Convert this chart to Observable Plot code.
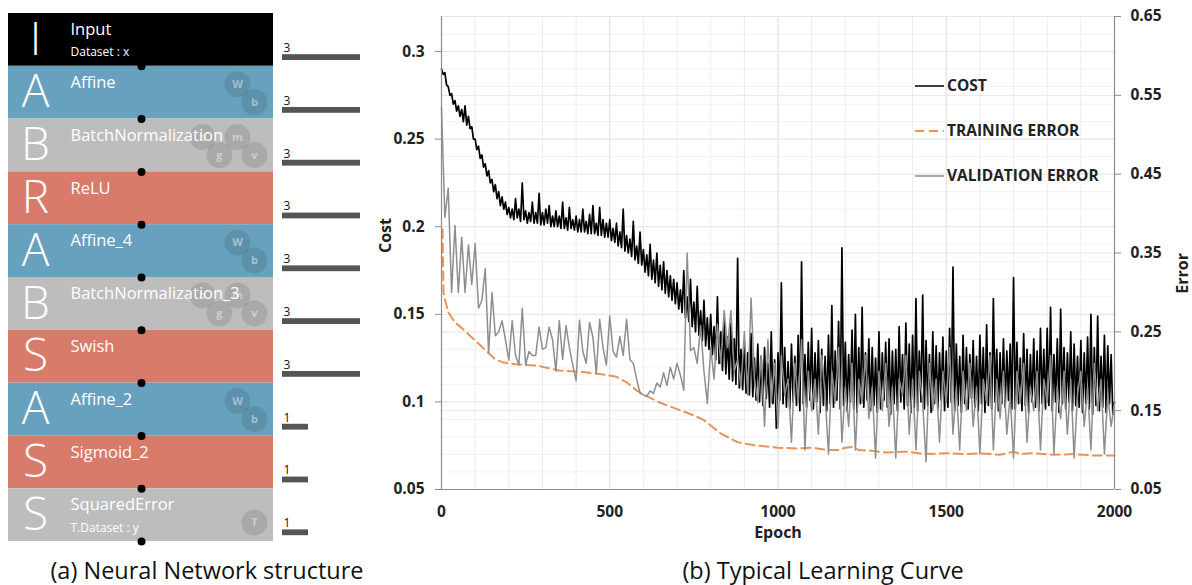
<!DOCTYPE html>
<html>
<head>
<meta charset="utf-8">
<script src="https://cdn.jsdelivr.net/npm/d3@7"></script>
<script src="https://cdn.jsdelivr.net/npm/@observablehq/plot@0.6"></script>
<style>
  html, body { margin: 0; padding: 0; background: white; }
  #root { position: relative; width: 1192px; height: 585px; overflow: hidden; font-family: "Open Sans", sans-serif; }
  .abs { position: absolute; }
  .caption { position: absolute; font-size: 23.5px; line-height: 1.05; color: #111; white-space: nowrap; transform: translate(-50%, -50%); }
</style>
</head>
<body>
<div id="root"></div>
<script>
// ---------- (a) network structure data ----------
const layerNames = ["Input","Affine","BatchNormalization","ReLU","Affine_4","BatchNormalization_3","Swish","Affine_2","Sigmoid_2","SquaredError"];
const layerTypes = ["Input","Affine","BatchNormalization","ReLU","Affine","BatchNormalization","Swish","Affine","Sigmoid","SquaredError"];
const layerLetters = ["I","A","B","R","A","B","S","A","S","S"];
const layerSubtitles = ["Dataset : x","","","","","","","","","T.Dataset : y"];
const layerOutputs = [3,3,3,3,3,3,3,1,1,1];
const layerParams = [[],["W","b"],["b","m","g","v"],[],["W","b"],["b","m","g","v"],[],["W","b"],[],["T"]];

// ---------- (b) learning curve data ----------
const costStep = 5;
const cost = [
  0.290,0.287,0.288,0.281,0.280,0.275,0.276,0.270,0.272,0.266,0.269,0.263,0.267,0.260,0.269,0.258,0.263,0.256,0.257,0.250,
  0.250,0.244,0.246,0.239,0.241,0.234,0.236,0.229,0.232,0.225,0.227,0.220,0.224,0.216,0.220,0.212,0.217,0.210,0.214,0.207,
  0.211,0.205,0.210,0.204,0.216,0.205,0.210,0.203,0.225,0.204,0.209,0.202,0.208,0.203,0.214,0.202,0.208,0.202,0.219,0.201,
  0.208,0.201,0.210,0.202,0.212,0.200,0.206,0.200,0.209,0.200,0.206,0.199,0.214,0.199,0.205,0.198,0.211,0.199,0.204,0.198,
  0.206,0.197,0.204,0.197,0.210,0.197,0.203,0.196,0.207,0.196,0.212,0.196,0.202,0.195,0.211,0.195,0.204,0.194,0.202,0.194,
  0.204,0.192,0.199,0.191,0.202,0.189,0.197,0.188,0.210,0.186,0.195,0.185,0.193,0.183,0.203,0.181,0.189,0.179,0.197,0.178,
  0.187,0.174,0.184,0.172,0.190,0.170,0.181,0.168,0.185,0.166,0.178,0.164,0.180,0.162,0.175,0.160,0.172,0.158,0.170,0.156,
  0.168,0.153,0.164,0.151,0.175,0.148,0.160,0.146,0.170,0.143,0.157,0.140,0.166,0.138,0.152,0.135,0.158,0.132,0.148,0.130,
  0.150,0.127,0.143,0.124,0.160,0.122,0.140,0.118,0.148,0.116,0.137,0.113,0.145,0.112,0.136,0.110,0.182,0.108,0.130,0.107,
  0.134,0.105,0.128,0.104,0.139,0.103,0.125,0.101,0.133,0.100,0.126,0.098,0.131,0.102,0.122,0.097,0.140,0.099,0.124,0.085,
  0.128,0.101,0.168,0.099,0.131,0.097,0.123,0.096,0.133,0.100,0.126,0.098,0.138,0.095,0.180,0.099,0.127,0.097,0.134,0.101,
  0.142,0.096,0.128,0.100,0.135,0.094,0.130,0.098,0.126,0.095,0.138,0.099,0.155,0.097,0.129,0.101,0.146,0.096,0.188,0.098,
  0.134,0.095,0.127,0.100,0.141,0.096,0.150,0.094,0.131,0.099,0.154,0.097,0.128,0.101,0.136,0.095,0.131,0.098,0.125,0.094,
  0.140,0.096,0.128,0.101,0.134,0.097,0.136,0.093,0.129,0.099,0.130,0.095,0.143,0.100,0.127,0.096,0.145,0.098,0.133,0.094,
  0.138,0.097,0.159,0.095,0.129,0.100,0.161,0.096,0.135,0.098,0.127,0.094,0.140,0.099,0.132,0.096,0.128,0.101,0.137,0.095,
  0.129,0.097,0.142,0.100,0.177,0.095,0.133,0.098,0.126,0.094,0.138,0.099,0.131,0.096,0.127,0.102,0.135,0.097,0.126,0.095,
  0.138,0.099,0.131,0.094,0.144,0.098,0.128,0.096,0.159,0.100,0.130,0.095,0.128,0.099,0.136,0.097,0.129,0.101,0.133,0.096,
  0.171,0.096,0.134,0.099,0.125,0.095,0.139,0.098,0.130,0.094,0.127,0.100,0.136,0.097,0.129,0.095,0.142,0.099,0.130,0.096,
  0.142,0.098,0.154,0.095,0.127,0.100,0.136,0.094,0.153,0.099,0.131,0.096,0.128,0.100,0.140,0.095,0.133,0.098,0.126,0.097,
  0.135,0.094,0.128,0.099,0.137,0.096,0.150,0.093,0.131,0.098,0.149,0.095,0.126,0.097,0.138,0.094,0.132,0.099,0.127,0.093,
  0.100
];
const valStep = 10;
const validationError = [
  0.535,0.395,0.432,0.300,0.385,0.300,0.370,0.300,0.360,0.310,
  0.362,0.280,0.290,0.330,0.223,0.300,0.245,0.250,0.264,0.240,
  0.214,0.264,0.220,0.208,0.280,0.208,0.225,0.220,0.220,0.256,
  0.228,0.230,0.256,0.240,0.200,0.264,0.215,0.258,0.230,0.208,
  0.188,0.265,0.225,0.210,0.262,0.243,0.197,0.266,0.230,0.208,
  0.270,0.225,0.218,0.244,0.220,0.266,0.215,0.210,0.190,0.172,
  0.170,0.168,0.175,0.172,0.185,0.180,0.198,0.182,0.205,0.190,
  0.210,0.195,0.176,0.350,0.226,0.230,0.210,0.258,0.200,0.159,
  0.230,0.190,0.260,0.210,0.277,0.230,0.277,0.200,0.215,0.180,
  0.250,0.170,0.293,0.190,0.160,0.220,0.130,0.240,0.160,0.210,
  0.128,0.220,0.170,0.190,0.110,0.210,0.160,0.240,0.100,0.200,
  0.150,0.190,0.120,0.220,0.170,0.095,0.200,0.160,0.230,0.110,
  0.180,0.130,0.210,0.100,0.190,0.160,0.220,0.140,0.180,0.090,
  0.200,0.150,0.210,0.130,0.180,0.090,0.190,0.170,0.220,0.120,
  0.190,0.100,0.200,0.160,0.085,0.210,0.150,0.190,0.110,0.200,
  0.160,0.230,0.120,0.180,0.100,0.200,0.150,0.210,0.130,0.180,
  0.095,0.190,0.160,0.220,0.100,0.190,0.140,0.200,0.120,0.170,
  0.090,0.200,0.160,0.210,0.110,0.180,0.150,0.200,0.100,0.190,
  0.160,0.220,0.095,0.180,0.140,0.200,0.120,0.190,0.090,0.170,
  0.200,0.130,0.180,0.100,0.210,0.150,0.190,0.095,0.170,0.130,
  0.160
];
const trainEpochs = [3,6,10,20,40,60,80,100,120,140,160,185,220,285,350,420,480,520,550,582,612,650,700,750,780,830,880,930,1000,1060,1100,1150,1180,1200,1220,1240,1280,1320,1380,1440,1500,1560,1600,1660,1700,1720,1760,1820,1880,1940,2000];
const trainError = [0.38,0.30,0.292,0.275,0.262,0.255,0.247,0.239,0.231,0.223,0.215,0.211,0.209,0.207,0.201,0.199,0.196,0.193,0.186,0.175,0.168,0.160,0.152,0.144,0.138,0.121,0.110,0.106,0.103,0.102,0.103,0.100,0.100,0.103,0.104,0.100,0.099,0.097,0.098,0.095,0.096,0.095,0.096,0.094,0.098,0.095,0.096,0.094,0.095,0.093,0.093];

const costTicks = [0.05,0.1,0.15,0.2,0.25,0.3];
const errorTicks = [0.05,0.15,0.25,0.35,0.45,0.55,0.65];
const epochTicks = [0,500,1000,1500,2000];
const costDomain = [0.05, 0.32];
const errorDomain = [0.05, 0.65];
const seriesLabels = ["COST","TRAINING ERROR","VALIDATION ERROR"];

// ---------- styles ----------
const FONT = "Open Sans";
const typeColor = {Input:"#000000", Affine:"#68a1be", BatchNormalization:"#bdbdbd", ReLU:"#d87b6b", Swish:"#d87b6b", Sigmoid:"#d87b6b", SquaredError:"#bdbdbd"};
const paramSlot = {
  "Affine:W":[0.864,0.34], "Affine:b":[0.928,0.68],
  "BatchNormalization:b":[0.732,0.34], "BatchNormalization:m":[0.864,0.34],
  "BatchNormalization:g":[0.796,0.68], "BatchNormalization:v":[0.928,0.68],
  "SquaredError:T":[0.928,0.64]
};

const root = document.getElementById("root");
function place(el, left, top) { el.classList.add("abs"); el.style.left = left + "px"; el.style.top = top + "px"; root.appendChild(el); return el; }

const rows = layerNames.map((name, i) => ({i, name, type: layerTypes[i], letter: layerLetters[i], sub: layerSubtitles[i], out: layerOutputs[i]}));
const params = rows.flatMap(r => layerParams[r.i].map(p => ({i: r.i, p, slot: paramSlot[r.type + ":" + p]})));

const H = 560, MT = 13, MB = 19;
const blocks = Plot.plot({
  width: 278, height: H, marginLeft: 8, marginRight: 5, marginTop: MT, marginBottom: MB,
  style: {fontFamily: FONT, background: "transparent"},
  x: {domain: [0, 1], axis: null},
  y: {domain: [0, 10], reverse: true, axis: null},
  color: {type: "identity"},
  marks: [
    Plot.rect(rows, {x1: () => 0, x2: () => 1, y1: d => d.i, y2: d => d.i + 1, fill: d => typeColor[d.type]}),
    Plot.dot(params, {x: d => d.slot[0], y: d => d.i + d.slot[1], r: 13, fill: "#000", fillOpacity: 0.1, stroke: "none"}),
    Plot.text(params, {x: d => d.slot[0], y: d => d.i + d.slot[1], text: "p", fill: "#fff", fillOpacity: 0.45, fontSize: 11, fontWeight: "bold"}),
    Plot.text(rows, {x: () => 0.102, y: d => d.i + 0.5, text: "letter", fill: "#fff", fontSize: 46, fontWeight: 300}),
    Plot.text(rows, {x: () => 0.234, y: d => d.i + 0.31, text: "name", fill: "#fff", fontSize: 16.5, textAnchor: "start"}),
    Plot.text(rows.filter(d => d.sub), {x: () => 0.234, y: d => d.i + 0.74, text: "sub", fill: "#fff", fontSize: 12, textAnchor: "start"}),
    Plot.dot(rows, {x: () => 0.502, y: d => d.i + 1, r: 4, fill: "#000", stroke: "none"})
  ]
});
place(blocks, 0, 0);

const outputs = Plot.plot({
  width: 80, height: H, marginLeft: 0, marginRight: 2, marginTop: MT, marginBottom: MB,
  style: {fontFamily: FONT, background: "transparent"},
  x: {domain: [0, 3], axis: null},
  y: {domain: [0, 10], reverse: true, axis: null},
  marks: [
    Plot.rect(rows, {x1: () => 0, x2: "out", y1: d => d.i + 0.78, y2: d => d.i + 0.89, fill: "#555"}),
    Plot.text(rows, {x: () => 0, y: d => d.i + 0.73, text: d => String(d.out), textAnchor: "start", lineAnchor: "bottom", dx: 1, fontSize: 12, fill: "#111"})
  ]
});
place(outputs, 282, 0);

// ---------- learning curve ----------
const errToCost = e => costDomain[0] + (e - errorDomain[0]) * (costDomain[1] - costDomain[0]) / (errorDomain[1] - errorDomain[0]);
const costToErr = c => errorDomain[0] + (c - costDomain[0]) * (errorDomain[1] - errorDomain[0]) / (costDomain[1] - costDomain[0]);

const costData = cost.map((v, k) => ({epoch: k * costStep, v}));
const valData = validationError.map((v, k) => ({epoch: k * valStep, v}));
const trainData = trainEpochs.map((e, k) => ({epoch: e, v: trainError[k]}));

const fmtCost = d3.format("~g");
const fmtErr = d3.format(".2f");
const tickFont = {fontSize: 15.5, fontWeight: "bold", fill: "#222"};

const chart = Plot.plot({
  width: 822, height: 550, marginLeft: 71, marginRight: 78, marginTop: 16, marginBottom: 61,
  style: {fontFamily: FONT, background: "transparent"},
  x: {domain: [0, 2000]},
  y: {domain: costDomain},
  marks: [
    Plot.ruleY(d3.range(0.05, 0.3201, 0.01), {stroke: "#f2f2f2"}),
    Plot.ruleX(d3.range(0, 2001, 100), {stroke: "#ededed"}),
    Plot.ruleX(epochTicks, {stroke: "#e3e3e3"}),
    Plot.ruleY(costTicks, {stroke: "#e6e6e6"}),
    Plot.ruleY(errorTicks.map(errToCost), {stroke: "#e6e6e6"}),
    Plot.line(costData, {x: "epoch", y: "v", stroke: "#000", strokeWidth: 1.7}),
    Plot.line(trainData, {x: "epoch", y: d => errToCost(d.v), stroke: "#e8935a", strokeWidth: 2, strokeDasharray: "9,5"}),
    Plot.line(valData, {x: "epoch", y: d => errToCost(d.v), stroke: "#8e8e8e", strokeWidth: 1.5}),
    Plot.ruleX([0], {stroke: "#8c8c8c", strokeWidth: 1.2}),
    Plot.ruleX([2000], {stroke: "#8c8c8c", strokeWidth: 1.2}),
    Plot.ruleY([costDomain[0]], {stroke: "#8c8c8c", strokeWidth: 1.2}),
    Plot.axisY(costTicks, {anchor: "left", tickSize: 6, tickPadding: 11, tickFormat: fmtCost, stroke: "#8c8c8c", label: null, ...tickFont}),
    Plot.axisY(errorTicks.map(errToCost), {anchor: "right", tickSize: 6, tickPadding: 10, tickFormat: d => fmtErr(costToErr(d)), stroke: "#8c8c8c", label: null, ...tickFont}),
    Plot.axisX(epochTicks, {anchor: "bottom", tickSize: 0, tickPadding: 16, tickFormat: d => String(d), label: null, ...tickFont}),
    Plot.text(["Cost"], {frameAnchor: "left", dx: -56, rotate: -90, text: d => d, fontSize: 16, fontWeight: "bold", fill: "#222"}),
    Plot.text(["Error"], {frameAnchor: "right", dx: 68, rotate: -90, text: d => d, fontSize: 16, fontWeight: "bold", fill: "#222"}),
    Plot.text(["Epoch"], {frameAnchor: "bottom", dy: 48, text: d => d, fontSize: 16, fontWeight: "bold", fill: "#222"})
  ]
});
place(chart, 370, 0);

// ---------- legend ----------
const ns = "http://www.w3.org/2000/svg";
const leg = document.createElementNS(ns, "svg");
leg.setAttribute("width", 210); leg.setAttribute("height", 120);
const legStyles = [
  {stroke: "#000", dash: null, w: 1.5},
  {stroke: "#e8935a", dash: "9,5", w: 2},
  {stroke: "#8e8e8e", dash: null, w: 1.5}
];
seriesLabels.forEach((lab, k) => {
  const y = 16 + k * 45;
  const ln = document.createElementNS(ns, "line");
  ln.setAttribute("x1", 3); ln.setAttribute("x2", 32); ln.setAttribute("y1", y); ln.setAttribute("y2", y);
  ln.setAttribute("stroke", legStyles[k].stroke); ln.setAttribute("stroke-width", legStyles[k].w);
  if (legStyles[k].dash) ln.setAttribute("stroke-dasharray", legStyles[k].dash);
  leg.appendChild(ln);
  const t = document.createElementNS(ns, "text");
  t.setAttribute("x", 35); t.setAttribute("y", y); t.setAttribute("dy", "0.35em");
  t.setAttribute("font-family", FONT); t.setAttribute("font-size", 15.5); t.setAttribute("font-weight", "bold"); t.setAttribute("fill", "#222");
  t.textContent = lab;
  leg.appendChild(t);
});
place(leg, 912, 70);

// ---------- captions ----------
const capA = document.createElement("div"); capA.className = "caption"; capA.textContent = "(a) Neural Network structure";
capA.style.left = "207px"; capA.style.top = "570px"; root.appendChild(capA);
const capB = document.createElement("div"); capB.className = "caption"; capB.textContent = "(b) Typical Learning Curve";
capB.style.left = "823px"; capB.style.top = "570px"; root.appendChild(capB);
</script>
</body>
</html>
